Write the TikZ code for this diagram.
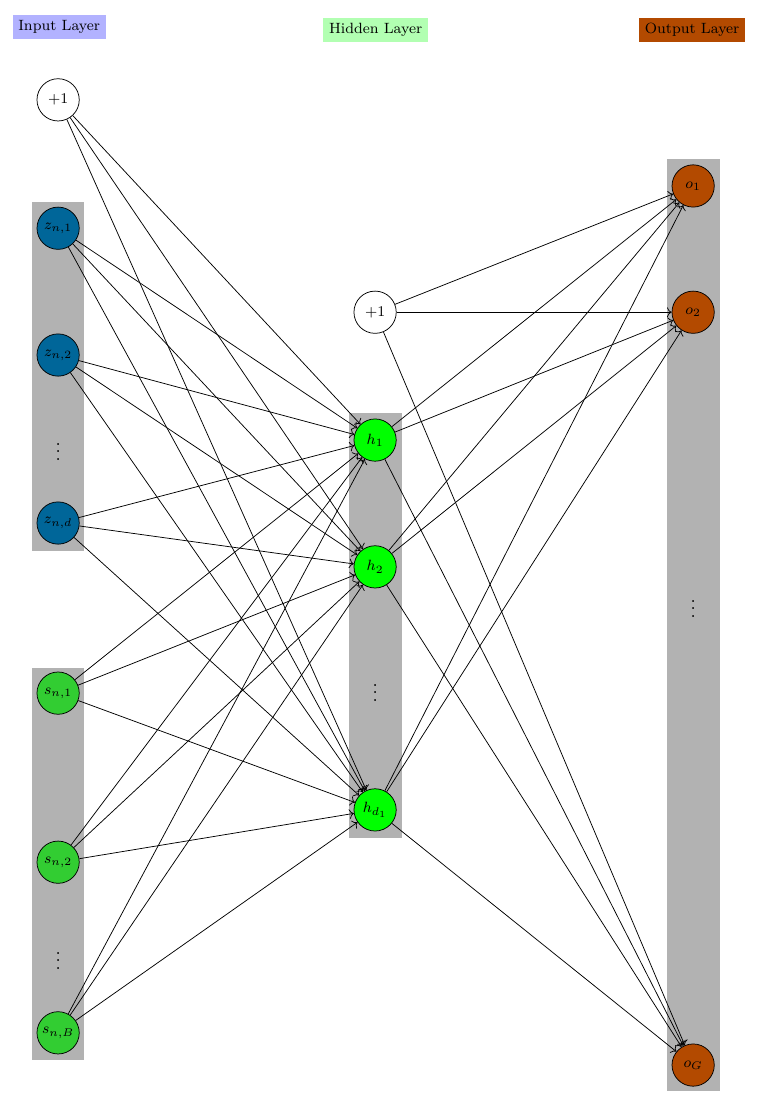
\documentclass[tikz,border=0pt]{standalone}
\usepackage{amsmath}
\usepackage{amssymb}
\usepackage{tikz}
\usetikzlibrary{positioning, arrows, arrows.meta}

\definecolor{zblue}{RGB}{0,102,153}
\definecolor{sgreen}{RGB}{50,205,50}
\definecolor{hgreen}{RGB}{0,255,0}
\definecolor{obrown}{RGB}{179,74,0}

\tikzset{
    neuron/.style={circle, draw, minimum size=0.8cm, inner sep=0pt, font=\footnotesize},
    layerlabel/.style={font=\footnotesize, inner sep=3pt},
    column/.style={fill=black!30, draw=none}
}

\begin{document}
\begin{tikzpicture}
            \useasboundingbox (0, 0) rectangle (14.35, -20.935);

            % gray backgrounds
            \fill [column] (0.61, -3.82) rectangle (1.59, -10.43);
            \fill [column] (0.61, -12.64) rectangle (1.59, -20.06);
            \fill [column] (6.61, -7.82) rectangle (7.61, -15.86);
            \fill [column] (12.63, -3.01) rectangle (13.63, -20.65);

            % layer labels
            \node [layerlabel, fill=blue!30] (Lin) at (1.12, -0.51) {Input Layer};
            \node [layerlabel, fill=green!30] (Lhid) at (7.11, -0.57) {Hidden Layer};
            \node [layerlabel, fill=obrown] (Lout) at (13.1, -0.57) {Output Layer};

            % input layer
            \node [neuron] (I0) at (1.10, -1.89) {$+1$};
            \node [neuron, fill=zblue] (Z1) at (1.10, -4.32) {$z_{n,1}$};
            \node [neuron, fill=zblue] (Z2) at (1.10, -6.72) {$z_{n,2}$};
            \node (Zdots) at (1.10, -8.45) {$\vdots$};
            \node [neuron, fill=zblue] (Zd) at (1.10, -9.90) {$z_{n,d}$};
            \node [neuron, fill=sgreen] (S1) at (1.10, -13.12) {$s_{n,1}$};
            \node [neuron, fill=sgreen] (S2) at (1.10, -16.32) {$s_{n,2}$};
            \node (Sdots) at (1.10, -18.08) {$\vdots$};
            \node [neuron, fill=sgreen] (SB) at (1.10, -19.55) {$s_{n,B}$};

            % hidden layer
            \node [neuron] (H0) at (7.10, -5.91) {$+1$};
            \node [neuron, fill=hgreen] (H1) at (7.10, -8.33) {$h_1$};
            \node [neuron, fill=hgreen] (H2) at (7.10, -10.73) {$h_2$};
            \node (Hdots) at (7.10, -13.01) {$\vdots$};
            \node [neuron, fill=hgreen] (Hd) at (7.10, -15.33) {$h_{d_1}$};

            % output layer
            \node [neuron, fill=obrown] (O1) at (13.12, -3.52) {$o_1$};
            \node [neuron, fill=obrown] (O2) at (13.12, -5.91) {$o_2$};
            \node (Odots) at (13.12, -11.42) {$\vdots$};
            \node [neuron, fill=obrown] (OG) at (13.12, -20.16) {$o_G$};

            % connections
            \foreach \a in {I0, Z1, Z2, Zd, S1, S2, SB}
                \foreach \b in {H1, H2, Hd}
                    \draw [->] (\a) -- (\b);
            \foreach \a in {H0, H1, H2, Hd}
                \foreach \b in {O1, O2, OG}
                    \draw [->] (\a) -- (\b);
        \end{tikzpicture}
\end{document}
